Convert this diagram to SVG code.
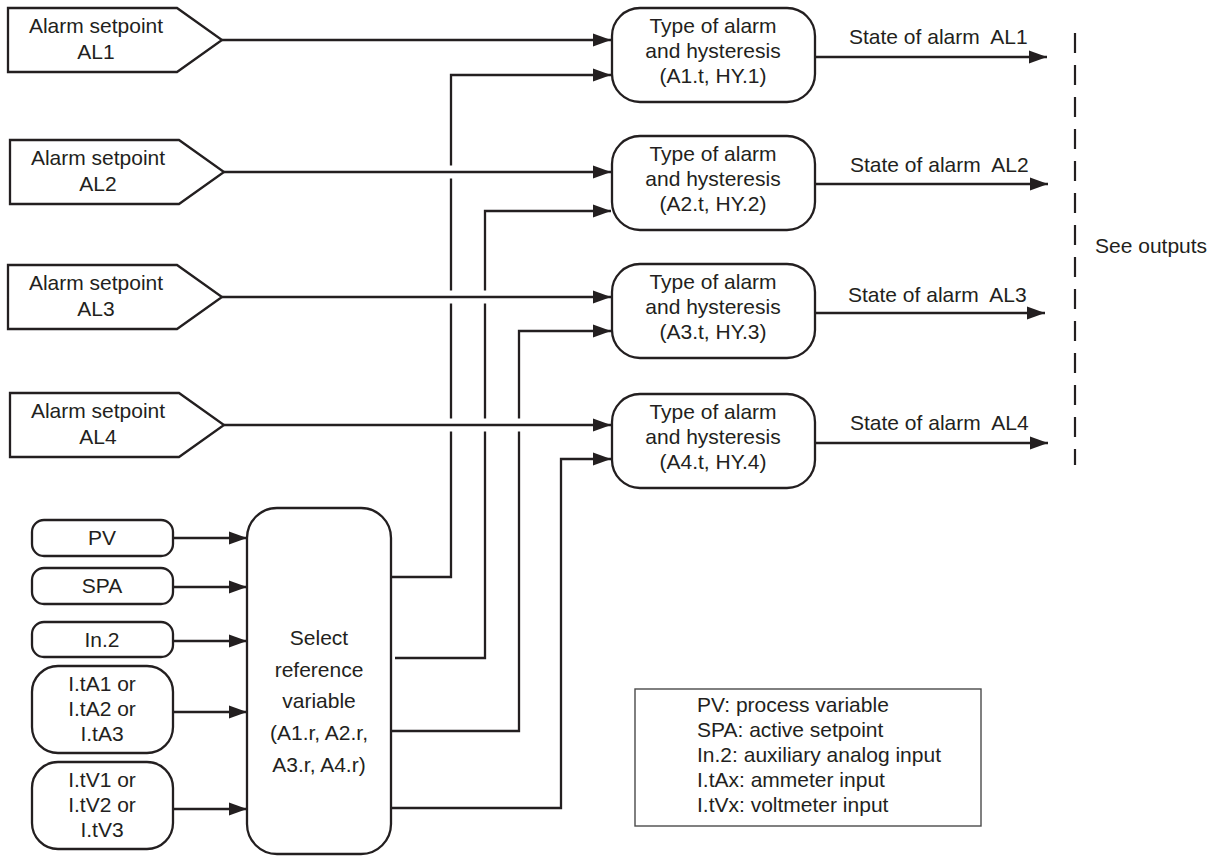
<svg xmlns="http://www.w3.org/2000/svg" width="1222" height="856" viewBox="0 0 1222 856">
<style>
.shape{fill:#fff;stroke:#231f20;stroke-width:2.3}
.wire{fill:none;stroke:#231f20;stroke-width:2.3}
.halo{fill:none;stroke:#fff;stroke-width:13}
.dash{fill:none;stroke:#231f20;stroke-width:2.2;stroke-dasharray:20 12}
text{font-family:"Liberation Sans",Arial,Helvetica,sans-serif;font-size:21px;fill:#231f20}
.c{text-anchor:middle}
.pre{white-space:pre}
.legend{fill:#fff;stroke:#4a4a4a;stroke-width:1.4}
</style>
<defs>
<marker id="arr" markerUnits="userSpaceOnUse" markerWidth="18" markerHeight="14" refX="18" refY="7" orient="auto">
<path d="M0,0.5 L18,7 L0,13.5 z" fill="#231f20"/>
</marker>
</defs>
<rect width="1222" height="856" fill="#fff"/>

<g id="connectors">
<path class="wire" d="M391,577 H451 V75 H611" marker-end="url(#arr)"/>
<path class="wire" d="M395,658 H485 V211 H611" marker-end="url(#arr)"/>
<path class="wire" d="M391,731 H519 V331 H611" marker-end="url(#arr)"/>
<path class="wire" d="M391,808 H561 V459 H611" marker-end="url(#arr)"/>
<path class="halo" d="M240,40 H590 M240,172 H590 M240,297 H590 M240,425 H590"/>
<path class="wire" d="M222,40 H611" marker-end="url(#arr)"/>
<path class="wire" d="M224,172 H611" marker-end="url(#arr)"/>
<path class="wire" d="M222,297 H611" marker-end="url(#arr)"/>
<path class="wire" d="M224,425 H611" marker-end="url(#arr)"/>
<path class="wire" d="M173,538 H247" marker-end="url(#arr)"/>
<path class="wire" d="M173,587 H247" marker-end="url(#arr)"/>
<path class="wire" d="M173,641 H247" marker-end="url(#arr)"/>
<path class="wire" d="M173,712 H247" marker-end="url(#arr)"/>
<path class="wire" d="M173,809 H247" marker-end="url(#arr)"/>
<path class="wire" d="M815,57 H1047" marker-end="url(#arr)"/>
<path class="wire" d="M815,184 H1048" marker-end="url(#arr)"/>
<path class="wire" d="M815,313 H1045" marker-end="url(#arr)"/>
<path class="wire" d="M815,443 H1048" marker-end="url(#arr)"/>
<text class="pre" x="849" y="44" xml:space="preserve">State of alarm  AL1</text>
<text class="pre" x="850" y="172" xml:space="preserve">State of alarm  AL2</text>
<text class="pre" x="848" y="302" xml:space="preserve">State of alarm  AL3</text>
<text class="pre" x="850" y="430" xml:space="preserve">State of alarm  AL4</text>
</g>

<g id="setpoint-al1">
<polygon class="shape" points="8,8 177,8 222,40 177,72 8,72"/>
<text class="c" x="96" y="33">Alarm setpoint</text>
<text class="c" x="96" y="59">AL1</text>
</g>
<g id="setpoint-al2">
<polygon class="shape" points="10,140 179,140 224,172 179,204 10,204"/>
<text class="c" x="98" y="165">Alarm setpoint</text>
<text class="c" x="98" y="191">AL2</text>
</g>
<g id="setpoint-al3">
<polygon class="shape" points="8,265 177,265 222,297 177,329 8,329"/>
<text class="c" x="96" y="290">Alarm setpoint</text>
<text class="c" x="96" y="316">AL3</text>
</g>
<g id="setpoint-al4">
<polygon class="shape" points="10,393 179,393 224,425 179,457 10,457"/>
<text class="c" x="98" y="418">Alarm setpoint</text>
<text class="c" x="98" y="444">AL4</text>
</g>

<g id="alarm-type-1">
<rect class="shape" x="612" y="8" width="203" height="94" rx="28"/>
<text class="c" x="713" y="33">Type of alarm</text>
<text class="c" x="713" y="58">and hysteresis</text>
<text class="c" x="713" y="83">(A1.t, HY.1)</text>
</g>
<g id="alarm-type-2">
<rect class="shape" x="612" y="136" width="203" height="94" rx="28"/>
<text class="c" x="713" y="161">Type of alarm</text>
<text class="c" x="713" y="186">and hysteresis</text>
<text class="c" x="713" y="211">(A2.t, HY.2)</text>
</g>
<g id="alarm-type-3">
<rect class="shape" x="612" y="264" width="203" height="94" rx="28"/>
<text class="c" x="713" y="289">Type of alarm</text>
<text class="c" x="713" y="314">and hysteresis</text>
<text class="c" x="713" y="339">(A3.t, HY.3)</text>
</g>
<g id="alarm-type-4">
<rect class="shape" x="612" y="394" width="203" height="94" rx="28"/>
<text class="c" x="713" y="419">Type of alarm</text>
<text class="c" x="713" y="444">and hysteresis</text>
<text class="c" x="713" y="469">(A4.t, HY.4)</text>
</g>

<g id="see-outputs">
<line class="dash" x1="1075" y1="33" x2="1075" y2="465"/>
<text x="1095" y="253">See outputs</text>
</g>

<g id="input-pv">
<rect class="shape" x="32" y="520" width="141" height="36" rx="12"/>
<text class="c" x="102" y="545">PV</text>
</g>
<g id="input-spa">
<rect class="shape" x="32" y="568" width="141" height="36" rx="12"/>
<text class="c" x="102" y="593">SPA</text>
</g>
<g id="input-in2">
<rect class="shape" x="32" y="622" width="141" height="35" rx="12"/>
<text class="c" x="102" y="647">In.2</text>
</g>
<g id="input-ita">
<rect class="shape" x="32" y="666" width="141" height="87" rx="26"/>
<text class="c" x="102" y="691">I.tA1 or</text>
<text class="c" x="102" y="716">I.tA2 or</text>
<text class="c" x="102" y="741">I.tA3</text>
</g>
<g id="input-itv">
<rect class="shape" x="32" y="762" width="141" height="87" rx="26"/>
<text class="c" x="102" y="787">I.tV1 or</text>
<text class="c" x="102" y="812">I.tV2 or</text>
<text class="c" x="102" y="837">I.tV3</text>
</g>

<g id="select-reference">
<rect class="shape" x="247" y="508" width="144" height="346" rx="30"/>
<text class="c" x="319" y="645">Select</text>
<text class="c" x="319" y="677">reference</text>
<text class="c" x="319" y="708">variable</text>
<text class="c" x="319" y="740">(A1.r, A2.r,</text>
<text class="c" x="319" y="772">A3.r, A4.r)</text>
</g>

<g id="legend">
<rect class="legend" x="635" y="689" width="346" height="137"/>
<text x="697" y="712">PV: process variable</text>
<text x="697" y="737">SPA: active setpoint</text>
<text x="697" y="762">In.2: auxiliary analog input</text>
<text x="697" y="787">I.tAx: ammeter input</text>
<text x="697" y="812">I.tVx: voltmeter input</text>
</g>
</svg>
